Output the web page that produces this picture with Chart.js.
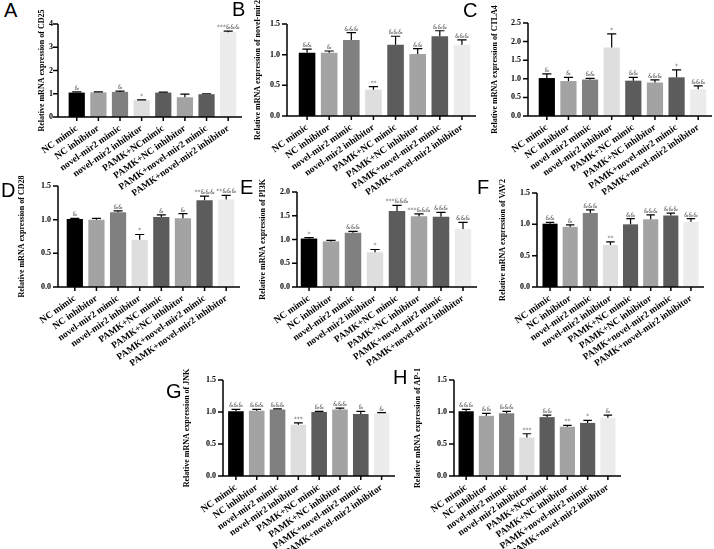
<!DOCTYPE html>
<html>
<head>
<meta charset="utf-8">
<script src="https://cdn.jsdelivr.net/npm/chart.js@4"></script>
<style>
body { margin: 0; background: #fff; }
#fig { position: relative; width: 714px; height: 549px; overflow: hidden; background: #fff; }
canvas { position: absolute; }
.tag { position: absolute; font-family: "Liberation Sans", Arial, sans-serif; font-size: 20px; line-height: 1; color: #000; }
</style>
</head>
<body>
<div id="fig"></div>
<script>
// group names (x axis)
const groups = ['NC mimic', 'NC inhibitor', 'novel-mir2 mimic', 'novel-mir2 inhibitor',
  'PAMK+NC mimic', 'PAMK+NC inhibitor', 'PAMK+novel-mir2 mimic', 'PAMK+novel-mir2 inhibitor'];
const groupsB = ['NC mimic', 'NC inhibitor', 'novel-mir2 mimic', 'novel-mir2 inhibitor',
  'PAMK+NCmimic', 'PAMK+NC inhibitor', 'PAMK+novel-mir2 mimic', 'PAMK+novel-mir2 inhibitor'];
const barColors = ['#000000', '#a3a3a3', '#808080', '#dedede', '#5c5c5c', '#a3a3a3', '#5c5c5c', '#ececec'];

// values (mean, upper error, significance marks)
const cd25Mean = [1.05, 1.06, 1.08, 0.72, 1.05, 0.85, 0.98, 3.65];
const cd25Err = [0.03, 0.02, 0.03, 0.02, 0.02, 0.13, 0.02, 0.04];
const cd25Marks = ['&', '', '&', '*', '', '', '', '***&&&'];

const mir2Mean = [1.03, 1.03, 1.24, 0.43, 1.16, 1.01, 1.30, 1.16];
const mir2Err = [0.06, 0.03, 0.12, 0.05, 0.14, 0.09, 0.09, 0.08];
const mir2Marks = ['&&', '&', '&&&', '**', '&&&', '&&', '&&&', '&&&'];

const ctla4Mean = [1.02, 0.94, 0.98, 1.84, 0.95, 0.90, 1.04, 0.72];
const ctla4Err = [0.11, 0.10, 0.03, 0.37, 0.09, 0.07, 0.20, 0.09];
const ctla4Marks = ['&', '&', '&&', '*', '&&', '&&&', '*', '&&&'];

const cd28Mean = [1.01, 1.00, 1.11, 0.70, 1.04, 1.02, 1.29, 1.30];
const cd28Err = [0.01, 0.02, 0.02, 0.08, 0.03, 0.07, 0.06, 0.06];
const cd28Marks = ['&', '', '&&', '*', '&', '&', '**&&&', '**&&&'];

const pi3kMean = [1.02, 0.96, 1.14, 0.73, 1.60, 1.49, 1.48, 1.22];
const pi3kErr = [0.02, 0.02, 0.03, 0.06, 0.12, 0.05, 0.09, 0.14];
const pi3kMarks = ['*', '', '&&&', '*', '***&&&', '***&&&', '&&&', '&&&'];

const vav2Mean = [1.01, 0.96, 1.18, 0.67, 1.00, 1.08, 1.14, 1.04];
const vav2Err = [0.02, 0.03, 0.05, 0.05, 0.09, 0.07, 0.04, 0.05];
const vav2Marks = ['&&', '&', '&&&', '**', '&&', '&&&', '&&&', '&&&'];

const jnkMean = [1.01, 1.02, 1.04, 0.80, 1.00, 1.04, 0.97, 0.98];
const jnkErr = [0.03, 0.02, 0.01, 0.03, 0.01, 0.02, 0.04, 0.01];
const jnkMarks = ['&&&', '&&&', '&&&', '***', '&&', '&&&', '&', '&'];

const ap1Mean = [1.01, 0.94, 0.98, 0.60, 0.92, 0.77, 0.83, 0.91];
const ap1Err = [0.03, 0.04, 0.03, 0.06, 0.03, 0.02, 0.04, 0.04];
const ap1Marks = ['&&&', '&&', '&&&', '***', '&&', '**', '*', '&'];

const panels = [
  { tag: 'A', gene: 'CD25', labels: groupsB, means: cd25Mean, errs: cd25Err, marks: cd25Marks, yMax: 4, step: 1, dec: 0,
    axisX: 58, L: 64, R: 239, T: 24, B: 117, tx: 40, tagX: 4, tagY: 3 },
  { tag: 'B', gene: 'novel-mir2', labels: groups, means: mir2Mean, errs: mir2Err, marks: mir2Marks, yMax: 1.5, step: 0.5, dec: 1,
    axisX: 287, L: 296, R: 473, T: 24, B: 116, tx: 258, tagX: 232, tagY: 2 },
  { tag: 'C', gene: 'CTLA4', labels: groups, means: ctla4Mean, errs: ctla4Err, marks: ctla4Marks, yMax: 2.5, step: 0.5, dec: 1,
    axisX: 528, L: 536, R: 709, T: 23, B: 116, tx: 495, tagX: 463, tagY: 3 },
  { tag: 'D', gene: 'CD28', labels: groups, means: cd28Mean, errs: cd28Err, marks: cd28Marks, yMax: 1.5, step: 0.5, dec: 1,
    axisX: 58, L: 64, R: 237, T: 186, B: 287, tx: 22, tagX: 1, tagY: 183 },
  { tag: 'E', gene: 'PI3K', labels: groups, means: pi3kMean, errs: pi3kErr, marks: pi3kMarks, yMax: 2, step: 0.5, dec: 1,
    axisX: 297, L: 298, R: 474, T: 192, B: 287, tx: 263, tagX: 240, tagY: 180 },
  { tag: 'F', gene: 'VAV2', labels: groups, means: vav2Mean, errs: vav2Err, marks: vav2Marks, yMax: 1.5, step: 0.5, dec: 1,
    axisX: 537, L: 540, R: 701, T: 193, B: 287, tx: 503, tagX: 477, tagY: 180 },
  { tag: 'G', gene: 'JNK', labels: groups, means: jnkMean, errs: jnkErr, marks: jnkMarks, yMax: 1.5, step: 0.5, dec: 1,
    axisX: 223, L: 225.5, R: 392, T: 380, B: 476, tx: 187, tagX: 166, tagY: 384 },
  { tag: 'H', gene: 'AP-1', labels: groupsB, means: ap1Mean, errs: ap1Err, marks: ap1Marks, yMax: 1.5, step: 0.5, dec: 1,
    axisX: 454, L: 456, R: 618, T: 380, B: 476, tx: 418, tagX: 393, tagY: 370 }
];

const serif = '"Liberation Serif", "Times New Roman", serif';
const PAD_TOP = 45;

// error bars, marks and Prism-style axes
function makePrism(p, cx) {
  return {
    id: 'prism' + p.tag,
    afterDatasetsDraw(chart) {
      const ctx = chart.ctx, y = chart.scales.y, a = chart.chartArea;
      const bars = chart.getDatasetMeta(0).data;
      ctx.save();
      ctx.strokeStyle = '#000';
      ctx.lineWidth = 1.2;
      bars.forEach((bar, i) => {
        const top = y.getPixelForValue(p.means[i] + p.errs[i]);
        const cap = bar.width * 0.28;
        ctx.beginPath();
        ctx.moveTo(bar.x, bar.y);
        ctx.lineTo(bar.x, top);
        ctx.moveTo(bar.x - cap, top);
        ctx.lineTo(bar.x + cap, top);
        ctx.stroke();
        ctx.font = '6px "DejaVu Sans", sans-serif';
        ctx.textAlign = 'center';
        ctx.fillStyle = '#666';
        ctx.fillText(p.marks[i], bar.x, top - 2);
      });
      const ax = p.axisX - cx;
      ctx.lineWidth = 1.5;
      ctx.beginPath();
      ctx.moveTo(ax, y.getPixelForValue(p.yMax));
      ctx.lineTo(ax, a.bottom);
      ctx.lineTo(a.right + 3, a.bottom);
      y.ticks.forEach(t => {
        const py = y.getPixelForValue(t.value);
        ctx.moveTo(ax - 5, py);
        ctx.lineTo(ax, py);
      });
      bars.forEach(bar => {
        ctx.moveTo(bar.x, a.bottom);
        ctx.lineTo(bar.x, a.bottom + 4);
      });
      ctx.stroke();
      ctx.restore();
    }
  };
}

const fig = document.getElementById('fig');

panels.forEach(p => {
  const cx = p.tx - 5, cy = p.T - PAD_TOP;
  const cw = p.R + 8 - cx, ch = p.B + 90 - cy;
  const yw = p.L - cx, xh = ch - (p.B - cy);

  const canvas = document.createElement('canvas');
  canvas.width = cw;
  canvas.height = ch;
  canvas.style.left = cx + 'px';
  canvas.style.top = cy + 'px';
  fig.appendChild(canvas);

  new Chart(canvas.getContext('2d'), {
    type: 'bar',
    data: {
      labels: p.labels,
      datasets: [{
        data: p.means,
        backgroundColor: barColors,
        borderWidth: 0,
        barPercentage: 0.75,
        categoryPercentage: 1.0
      }]
    },
    options: {
      responsive: false,
      animation: false,
      layout: { padding: { top: PAD_TOP, right: 8, left: 0, bottom: 0 } },
      plugins: { legend: { display: false }, tooltip: { enabled: false } },
      scales: {
        x: {
          grid: { display: false, drawTicks: false },
          border: { display: false },
          ticks: {
            autoSkip: false, minRotation: 35, maxRotation: 35, padding: 6,
            color: '#000', font: { family: serif, size: 9.5, weight: 'bold' }
          },
          afterFit(s) { s.height = xh; }
        },
        y: {
          min: 0, max: p.yMax,
          grid: { display: false, drawTicks: false },
          border: { display: false },
          ticks: {
            stepSize: p.step, padding: p.L - (p.axisX - 7),
            color: '#000', font: { family: serif, size: 8, weight: 'bold' },
            callback: v => Number(v).toFixed(p.dec)
          },
          title: {
            display: true, text: 'Relative mRNA expression of ' + p.gene,
            color: '#000', padding: 0, font: { family: serif, size: 8, weight: 'bold' }
          },
          afterFit(s) { s.width = yw; }
        }
      }
    },
    plugins: [makePrism(p, cx)]
  });

  const tag = document.createElement('div');
  tag.className = 'tag';
  tag.textContent = p.tag;
  tag.style.left = p.tagX + 'px';
  tag.style.top = (p.tagY - 3) + 'px';
  fig.appendChild(tag);
});
</script>
</body>
</html>
